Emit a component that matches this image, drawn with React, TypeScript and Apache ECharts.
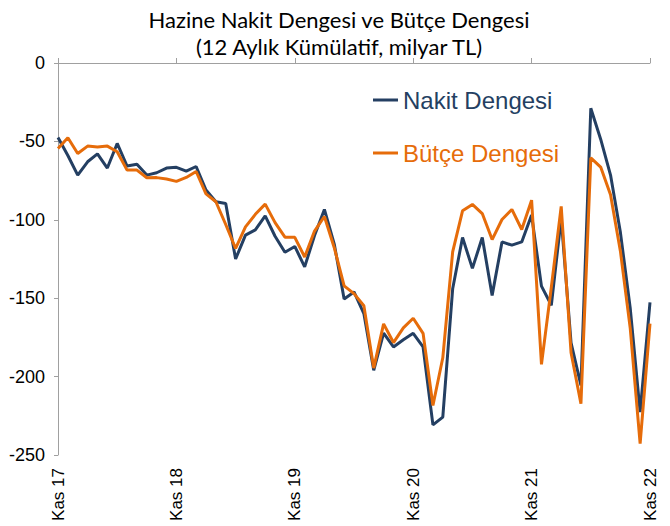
import React, { useEffect, useRef } from "react";
import * as echarts from "echarts";

const monthNames = ["Oca", "Şub", "Mar", "Nis", "May", "Haz", "Tem", "Ağu", "Eyl", "Eki", "Kas", "Ara"];
const startYear = 17;
const startMonth = 10; // Kas
const pointCount = 61;

const categories: string[] = [];
for (let i = 0; i < pointCount; i++) {
  const m = (startMonth + i) % 12;
  const y = startYear + Math.floor((startMonth + i) / 12);
  categories.push(`${monthNames[m]} ${y}`);
}

const nakitDengesi = [
  -47.5, -59, -71.5, -63, -58, -67, -51.3, -65.7, -64.6, -71.5,
  -70, -67, -66.5, -69, -66, -81, -88.5, -89.6, -125, -109.8,
  -106.4, -97.5, -110.5, -120.7, -117, -130, -110, -93.4, -115.5, -150.5,
  -146, -159.8, -196, -172.2, -181.1, -176.5, -172.4, -181.1, -230.8, -225.8,
  -144, -111.3, -131, -111.3, -148.2, -114.1, -116.2, -114.1, -97, -142.3,
  -154.5, -99, -178.5, -205.6, -28.9, -48.6, -71.5, -108, -156.6, -222.7,
  -152.6,
];

const butceDengesi = [
  -54.5, -47.7, -57.7, -53, -53.5, -53, -56.6, -68.3, -68.3, -73.2,
  -73.1, -74, -75.5, -73, -69.2, -83.5, -88.5, -103, -118.3, -104.5,
  -96.5, -90, -101.8, -111.1, -111.2, -123.7, -107.2, -97.9, -117.8, -142.1,
  -147.1, -154.8, -194.6, -166.4, -178.3, -168.9, -162.8, -172.4, -218.4, -188,
  -120.5, -94.3, -90.2, -96, -112.6, -99.8, -93.4, -106.2, -87.5, -192.2,
  -143, -91.5, -184.8, -217.3, -60.5, -66.4, -84, -120, -169.4, -242.7,
  -166.2,
];

const yTicks = [0, -50, -100, -150, -200, -250];

const NAVY = "#243F62";
const ORANGE = "#E66C0A";
const AXIS = "#A0A0A0";

export default function App() {
  const ref = useRef<HTMLDivElement>(null);
  useEffect(() => {
    if (!ref.current) return;
    const chart = echarts.init(ref.current, null, { renderer: "svg" });
    chart.setOption({
      animation: false,
      backgroundColor: "#ffffff",
      title: {
        text: "Hazine Nakit Dengesi ve Bütçe Dengesi\n(12 Aylık Kümülatif, milyar TL)",
        left: 334,
        textAlign: "center",
        top: 1,
        textStyle: {
          fontFamily: "Lato",
          fontWeight: "normal",
          fontSize: 22,
          lineHeight: 27,
          color: "#000",
        },
      },
      legend: {
        orient: "vertical",
        left: 373,
        top: 88,
        padding: 0,
        itemWidth: 25,
        itemHeight: 3,
        itemGap: 29,
        icon: "rect",
        textStyle: { fontFamily: "Liberation Sans", fontSize: 24 },
        data: [
          { name: "Nakit Dengesi", textStyle: { color: NAVY } },
          { name: "Bütçe Dengesi", textStyle: { color: ORANGE } },
        ],
      },
      grid: { left: 58, right: 20, top: 63, bottom: 71, containLabel: false },
      xAxis: [
        {
          type: "category",
          data: categories,
          boundaryGap: false,
          position: "bottom",
          axisLine: { show: false },
          axisTick: { show: false },
          axisLabel: {
            rotate: 90,
            margin: 13,
            interval: (i: number) => i % 12 === 0,
            fontFamily: "Liberation Sans",
            fontSize: 17,
            color: "#000",
          },
        },
        {
          type: "category",
          data: categories,
          boundaryGap: false,
          position: "top",
          axisLine: { show: true, lineStyle: { color: AXIS, width: 1 } },
          axisTick: {
            show: true,
            length: 5,
            interval: (i: number) => i % 12 === 0,
            lineStyle: { color: AXIS },
          },
          axisLabel: { show: false },
        },
      ],
      yAxis: {
        type: "value",
        min: yTicks[yTicks.length - 1],
        max: yTicks[0],
        interval: 50,
        axisLine: { show: true, lineStyle: { color: AXIS, width: 1 } },
        axisTick: { show: true, length: 4, lineStyle: { color: AXIS } },
        splitLine: { show: false },
        axisLabel: {
          margin: 13,
          fontFamily: "Liberation Sans",
          fontSize: 18,
          color: "#000",
        },
      },
      series: [
        {
          name: "Nakit Dengesi",
          type: "line",
          data: nakitDengesi,
          symbol: "none",
          lineStyle: { color: NAVY, width: 3 },
          itemStyle: { color: NAVY },
          z: 3,
        },
        {
          name: "Bütçe Dengesi",
          type: "line",
          data: butceDengesi,
          symbol: "none",
          lineStyle: { color: ORANGE, width: 3 },
          itemStyle: { color: ORANGE },
          z: 4,
        },
      ],
    });
    return () => chart.dispose();
  }, []);
  return <div ref={ref} style={{ width: 670, height: 526, position: "fixed", left: 0, top: 0 }} />;
}
